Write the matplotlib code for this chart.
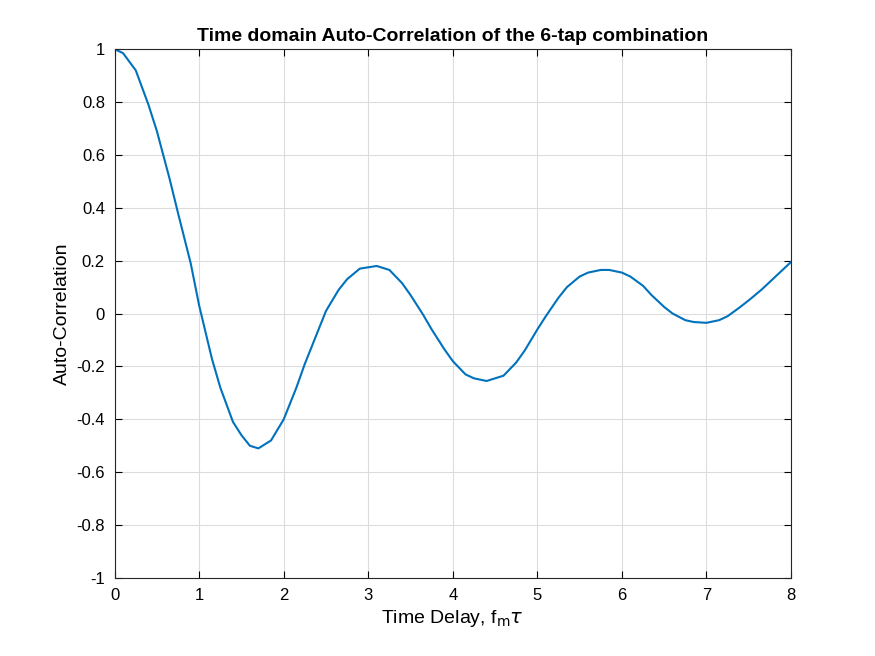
import matplotlib
matplotlib.use('Agg')
import matplotlib.pyplot as plt

plt.rcParams['font.family'] = ['Liberation Sans', 'DejaVu Sans']

# values
delay = [0, 0.1, 0.25, 0.4, 0.5, 0.65, 0.75, 0.9, 1.0, 1.15, 1.25, 1.4, 1.5, 1.6, 1.7, 1.85, 2.0,
         2.15, 2.25, 2.4, 2.5, 2.65, 2.75, 2.9, 3.0, 3.1, 3.25, 3.4, 3.5, 3.65, 3.75, 3.9, 4.0,
         4.15, 4.25, 4.4, 4.6, 4.75, 4.85, 5.0, 5.1, 5.25, 5.35, 5.5, 5.6, 5.75, 5.85, 6.0, 6.1,
         6.25, 6.35, 6.5, 6.6, 6.75, 6.85, 7.0, 7.15, 7.25, 7.4, 7.5, 7.65, 7.75, 7.9, 8.0]
corr = [1.0, 0.985, 0.92, 0.79, 0.69, 0.51, 0.38, 0.19, 0.03, -0.17, -0.28, -0.41, -0.46, -0.50, -0.51, -0.48, -0.40,
        -0.28, -0.19, -0.07, 0.01, 0.09, 0.13, 0.17, 0.175, 0.18, 0.165, 0.115, 0.07, -0.005, -0.06, -0.135, -0.18,
        -0.23, -0.245, -0.255, -0.235, -0.185, -0.14, -0.06, -0.01, 0.06, 0.10, 0.14, 0.155, 0.165, 0.165, 0.155, 0.14,
        0.105, 0.07, 0.025, 0.0, -0.025, -0.032, -0.035, -0.025, -0.01, 0.025, 0.05, 0.09, 0.12, 0.165, 0.195]

fig = plt.figure(figsize=(8.75, 6.56), dpi=100)
ax = fig.add_axes([0.131, 0.119, 0.773, 0.806])
ax.plot(delay, corr, color='#0072BD', linewidth=1.5)
ax.set_xlim(0, 8)
ax.set_ylim(-1, 1)
ax.set_xticks(range(0, 9))
ax.set_yticks([-1, -0.8, -0.6, -0.4, -0.2, 0, 0.2, 0.4, 0.6, 0.8, 1])
ax.set_yticklabels(['-1', '-0.8', '-0.6', '-0.4', '-0.2', '0', '0.2', '0.4', '0.6', '0.8', '1'])
ax.grid(True, color='#dcdcdc', linewidth=0.8)
ax.tick_params(direction='in', labelsize=12, top=True, right=True, length=5, pad=7)
for s in ax.spines.values():
    s.set_color('#262626')
    s.set_linewidth(0.8)
ax.set_xlabel(r'Time Delay, f$_\mathrm{m}\tau$', fontsize=14)
ax.set_ylabel('Auto-Correlation', fontsize=14)
ax.set_title('Time domain Auto-Correlation of the 6-tap combination', fontsize=14, fontweight='bold')
fig.savefig('out.png')
